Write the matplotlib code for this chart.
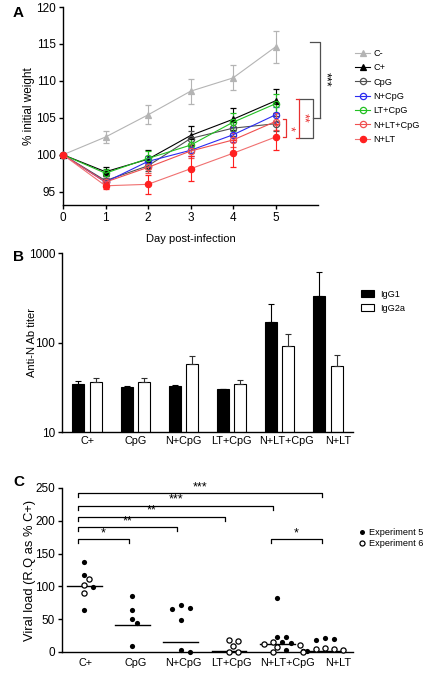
import matplotlib
matplotlib.use("Agg")
import matplotlib.pyplot as plt
from matplotlib.lines import Line2D
from matplotlib.transforms import ScaledTranslation
import numpy as np

plt.rcParams['font.family'] = ['Liberation Sans', 'DejaVu Sans']

# ---- Panel A: weight curves
days = [0, 1, 2, 3, 4, 5]
groups_a = ['C-', 'C+', 'CpG', 'N+CpG', 'LT+CpG', 'N+LT+CpG', 'N+LT']
weight = {
    'C-':       [100, 102.4, 105.4, 108.6, 110.4, 114.6],
    'C+':       [100, 97.7, 99.4, 102.6, 104.8, 107.3],
    'CpG':      [100, 96.5, 98.5, 102.2, 103.6, 104.2],
    'N+CpG':    [100, 96.3, 99.1, 100.6, 102.7, 105.4],
    'LT+CpG':   [100, 97.5, 99.5, 101.3, 104.4, 106.9],
    'N+LT+CpG': [100, 96.3, 98.3, 100.5, 102.0, 104.5],
    'N+LT':     [100, 95.8, 96.0, 98.1, 100.2, 102.4],
}
weight_err = {
    'C-':       [0, 0.8, 1.3, 1.7, 1.7, 2.2],
    'C+':       [0, 0.6, 1.2, 1.3, 1.5, 1.6],
    'CpG':      [0, 0.6, 0.7, 1.0, 1.0, 1.0],
    'N+CpG':    [0, 0.5, 0.8, 0.8, 1.0, 1.0],
    'LT+CpG':   [0, 0.6, 1.0, 1.0, 1.2, 1.3],
    'N+LT+CpG': [0, 0.6, 0.8, 1.0, 1.0, 1.2],
    'N+LT':     [0, 0.5, 1.3, 1.7, 1.8, 1.8],
}

# ---- Panel B: antibody titers
groups_b = ['C+', 'CpG', 'N+CpG', 'LT+CpG', 'N+LT+CpG', 'N+LT']
igg1 = [34.5, 32.0, 32.5, 30.5, 168, 328]
igg1_err = [2.5, 1.0, 1.2, 0, 100, 285]
igg2a = [36.0, 36.0, 58, 34.5, 92, 55]
igg2a_err = [4.0, 4.5, 13, 3.8, 33, 17]

# ---- Panel C: viral load
exp5 = {
    'C+':       [137.6, 117.4, 99.2, 63.3],
    'CpG':      [86, 64.3, 50.6, 44.5, 9.1],
    'N+CpG':    [70.9, 67.8, 66.3, 48.1, 2.5, 0.5],
    'LT+CpG':   [],
    'N+LT+CpG': [82.5, 22.3, 22.3, 15.2, 14.2, 2.5],
    'N+LT':     [21.8, 19.7, 17.7, 2.0, 1.0, 1.0],
}
exp6 = {
    'C+':       [110.8, 101.7, 89.6],
    'CpG':      [],
    'N+CpG':    [],
    'LT+CpG':   [18.2, 16.2, 9.1, 0.5, 0.5],
    'N+LT+CpG': [14.7, 11.6, 10.0, 7.6, 0.5],
    'N+LT':     [6.6, 4.5, 4.5, 3.5, 0.5],
}
medians = [100, 41, 15, 1, 12.6, 1.5]
# (left group, right group, stars)
sig_c = [(0, 5, '***'), (0, 4, '***'), (0, 3, '**'), (0, 2, '**'), (0, 1, '*'), (4, 5, '*')]
sig_c_y = [242, 223, 206, 190, 172, 172]

W, H = 430, 674
fig = plt.figure(figsize=(W / 100, H / 100), dpi=100)


def ax_at(l, t, r, b):
    return fig.add_axes([l / W, 1 - b / H, (r - l) / W, (b - t) / H])


def style(ax):
    for s in ['top', 'right']:
        ax.spines[s].set_visible(False)
    for s in ['left', 'bottom']:
        ax.spines[s].set_linewidth(1.0)
    ax.tick_params(direction='out', length=3, width=1, labelsize=8.5, pad=2)


def nudge_labels(ax, shifts_px):
    # horizontal shift of the category labels, as in the original layout
    for lab, dx in zip(ax.get_xticklabels(), shifts_px):
        lab.set_transform(lab.get_transform() + ScaledTranslation(dx / 100, 0, fig.dpi_scale_trans))


# ===================== A
axA = ax_at(63, 7, 318, 205)
style(axA)
styles = {
    'C-':       dict(color='#b4b4b4', marker='^', mfc='#b4b4b4'),
    'C+':       dict(color='black', marker='^', mfc='black'),
    'CpG':      dict(color='#505050', marker='o', mfc='none'),
    'N+CpG':    dict(color='#2b2bf0', marker='o', mfc='none'),
    'LT+CpG':   dict(color='#22c022', marker='o', mfc='none'),
    'N+LT+CpG': dict(color='#f05050', marker='o', mfc='none'),
    'N+LT':     dict(color='#ff2020', marker='o', mfc='#ff2020'),
}
line_col = {'N+LT': '#f07070'}
handles = []
for g in groups_a:
    st = styles[g]
    lc = line_col.get(g, st['color'])
    axA.errorbar(days, weight[g], yerr=weight_err[g], color=lc,
                 ecolor=st['color'], elinewidth=0.8, capsize=2, capthick=0.8,
                 lw=0.8, marker=st['marker'], mfc=st['mfc'], mec=st['color'],
                 ms=4.5, mew=0.9, clip_on=False, zorder=3)
    handles.append(Line2D([], [], color=lc, lw=0.8, marker=st['marker'], mfc=st['mfc'],
                          mec=st['color'], ms=4.5, mew=0.9))
axA.set_xlim(0, 6)
axA.set_ylim(93.2, 120)
axA.set_xticks(days)
axA.set_yticks([95, 100, 105, 110, 115, 120])
axA.set_xlabel('Day post-infection', fontsize=8, labelpad=7)
axA.set_ylabel('% initial weight', fontsize=8.5)
axA.yaxis.set_label_coords(-0.11, 0.5)

# brackets in A (data coordinates, beyond day 5)
k = dict(clip_on=False, lw=0.9)
gray = '#505050'
axA.plot([5.56, 5.88, 5.88, 5.56], [107.6, 107.6, 102.3, 102.3], color=gray, **k)
axA.plot([5.88, 6.05], [105.0, 105.0], color=gray, **k)
axA.plot([5.8, 6.05, 6.05], [115.2, 115.2, 105.0], color=gray, **k)
axA.text(6.18, 110.2, '***', rotation=270, ha='center', va='center', fontsize=9, color='black')
red = '#e83030'
axA.plot([5.48, 5.56, 5.56, 5.48], [107.6, 107.6, 102.3, 102.3], color=red, **k)
axA.plot([5.17, 5.24, 5.24, 5.17], [104.9, 104.9, 102.4, 102.4], color=red, **k)
axA.text(5.65, 105.0, '**', rotation=270, ha='center', va='center', fontsize=9, color=red)
axA.text(5.33, 103.6, '*', rotation=270, ha='center', va='center', fontsize=9, color=red)

fig.legend(handles, groups_a, loc='upper left', bbox_to_anchor=(355 / W, 1 - 49 / H),
           frameon=False, fontsize=6.6, handlelength=1.65, labelspacing=0.58,
           handletextpad=0.35, borderaxespad=0, borderpad=0)

fig.text(13 / W, 1 - 13 / H, 'A', fontsize=11, fontweight='bold', ha='left', va='center')
fig.text(13 / W, 1 - 257 / H, 'B', fontsize=11, fontweight='bold', ha='left', va='center')
fig.text(13 / W, 1 - 482 / H, 'C', fontsize=11, fontweight='bold', ha='left', va='center')

# ===================== B
axB = ax_at(62, 253, 353, 432)
style(axB)
xb = np.arange(len(groups_b))
bw = 0.25
b1 = axB.bar(xb - 0.18, igg1, bw, color='black', edgecolor='black', lw=0.8,
             yerr=[np.zeros(len(xb)), igg1_err], error_kw=dict(ecolor='black', elinewidth=0.8,
                                                               capsize=2, capthick=0.8))
b2 = axB.bar(xb + 0.18, igg2a, bw, color='white', edgecolor='black', lw=0.8,
             yerr=[np.zeros(len(xb)), igg2a_err], error_kw=dict(ecolor='#303030', elinewidth=0.8,
                                                                capsize=2, capthick=0.8))
axB.set_yscale('log')
axB.set_ylim(10, 1000)
axB.set_xlim(-0.52, 5.52)
axB.set_yticks([10, 100, 1000])
axB.set_yticklabels(['10', '100', '1000'])
axB.minorticks_off()
axB.set_xticks(xb)
axB.set_xticklabels(groups_b)
axB.tick_params(axis='x', length=0, labelsize=7.8, pad=3)
nudge_labels(axB, [0, 0, 0, 0, 7, 10])
axB.set_ylabel('Anti-N Ab titer', fontsize=8)
axB.yaxis.set_label_coords(-0.086, 0.5)
fig.legend([b1, b2], ['IgG1', 'IgG2a'], loc='upper left', bbox_to_anchor=(361 / W, 1 - 290 / H),
           frameon=False, fontsize=6.6, handlelength=1.45, handleheight=0.8,
           labelspacing=0.5, handletextpad=0.6, borderaxespad=0, borderpad=0)

# ===================== C
axC = ax_at(62, 488, 353, 652)
style(axC)
axC.set_xlim(-0.46, 5.57)
axC.set_ylim(0, 250)
axC.set_yticks([0, 50, 100, 150, 200, 250])
axC.set_xticks(xb)
axC.set_xticklabels(groups_b)
axC.tick_params(axis='x', labelsize=7.8, length=0, pad=4)
nudge_labels(axC, [1, 3, 3, 2, 10, 13])
axC.set_ylabel('Viral load (R.Q as % C+)', fontsize=9.3)
axC.yaxis.set_label_coords(-0.089, 0.5)

px_per_x = (353 - 62) / (5.57 + 0.46)
px_per_y = (652 - 488) / 250.0


def swarm(vals, dmin=6.0):
    # place points: each point takes the smallest offset that keeps it clear of the others
    order = np.argsort(vals)[::-1]
    placed = []
    offs = np.zeros(len(vals))
    for i in order:
        for step in [0, 1, -1, 2, -2, 3, -3, 4, -4, 5, -5]:
            ox = step * dmin * 0.75
            ok = True
            for (px, py) in placed:
                if np.hypot(ox - px, (vals[i] - py) * px_per_y) < dmin:
                    ok = False
                    break
            if ok:
                break
        placed.append((ox, vals[i]))
        offs[i] = ox / px_per_x
    return offs


for j, g in enumerate(groups_b):
    v5 = exp5[g]
    v6 = exp6[g]
    vals = np.array(v5 + v6, dtype=float)
    if len(vals) == 0:
        continue
    offs = swarm(vals)
    n5 = len(v5)
    if n5:
        axC.scatter(j + offs[:n5], vals[:n5], s=14, color='black', zorder=3, clip_on=False, lw=0)
    if len(v6):
        axC.scatter(j + offs[n5:], vals[n5:], s=14, facecolor='white', edgecolor='black',
                    lw=0.9, zorder=3, clip_on=False)
    axC.plot([j - 0.36, j + 0.36], [medians[j], medians[j]], color='black', lw=1, zorder=2)

for (a, b, stars), yy in zip(sig_c, sig_c_y):
    xl = a - 0.13
    xr = b - 0.08
    axC.plot([xl, xl, xr, xr], [yy - 6, yy, yy, yy - 6], color='black', lw=0.9, clip_on=False)
    axC.text((xl + xr) / 2, yy, stars, ha='center', va='bottom', fontsize=9)

h5 = Line2D([], [], ls='none', marker='o', ms=3.6, color='black', mew=0)
h6 = Line2D([], [], ls='none', marker='o', ms=3.6, mfc='white', mec='black', mew=0.9)
fig.legend([h5, h6], ['Experiment 5', 'Experiment 6'], loc='upper left',
           bbox_to_anchor=(358 / W, 1 - 528 / H), frameon=False, fontsize=6.6,
           handlelength=0.8, labelspacing=0.25, handletextpad=0.45, borderaxespad=0,
           borderpad=0)

fig.savefig('out.png', dpi=100)
